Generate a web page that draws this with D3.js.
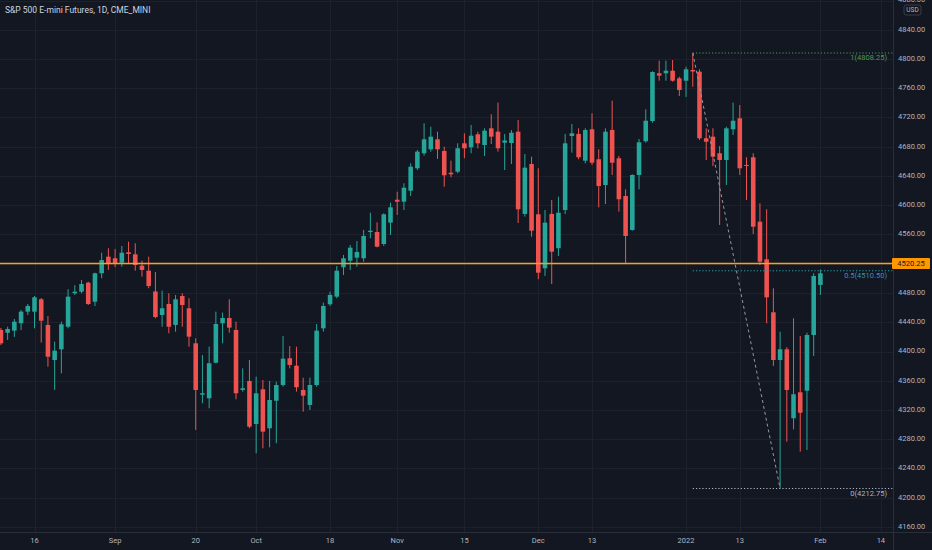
<!DOCTYPE html>
<html>
<head>
<meta charset="utf-8">
<script src="https://cdn.jsdelivr.net/npm/d3@7"></script>
<style>
  html, body { margin: 0; padding: 0; background: #131722; }
  svg { display: block; }
  text { font-family: Roboto, "Noto Sans", sans-serif; }
</style>
</head>
<body>
<svg id="chart" width="932" height="550"></svg>
<script>
// daily sessions shown on the chart
const dates = [
  '2021-08-09','2021-08-10','2021-08-11','2021-08-12','2021-08-13',
  '2021-08-16','2021-08-17','2021-08-18','2021-08-19','2021-08-20',
  '2021-08-23','2021-08-24','2021-08-25','2021-08-26','2021-08-27',
  '2021-08-30','2021-08-31','2021-09-01','2021-09-02','2021-09-03',
  '2021-09-07','2021-09-08','2021-09-09','2021-09-10',
  '2021-09-13','2021-09-14','2021-09-15','2021-09-16','2021-09-17',
  '2021-09-20','2021-09-21','2021-09-22','2021-09-23','2021-09-24',
  '2021-09-27','2021-09-28','2021-09-29','2021-09-30','2021-10-01',
  '2021-10-04','2021-10-05','2021-10-06','2021-10-07','2021-10-08',
  '2021-10-11','2021-10-12','2021-10-13','2021-10-14','2021-10-15',
  '2021-10-18','2021-10-19','2021-10-20','2021-10-21','2021-10-22',
  '2021-10-25','2021-10-26','2021-10-27','2021-10-28','2021-10-29',
  '2021-11-01','2021-11-02','2021-11-03','2021-11-04','2021-11-05',
  '2021-11-08','2021-11-09','2021-11-10','2021-11-11','2021-11-12',
  '2021-11-15','2021-11-16','2021-11-17','2021-11-18','2021-11-19',
  '2021-11-22','2021-11-23','2021-11-24','2021-11-26',
  '2021-11-29','2021-11-30','2021-12-01','2021-12-02','2021-12-03',
  '2021-12-06','2021-12-07','2021-12-08','2021-12-09','2021-12-10',
  '2021-12-13','2021-12-14','2021-12-15','2021-12-16','2021-12-17',
  '2021-12-20','2021-12-21','2021-12-22','2021-12-23',
  '2021-12-27','2021-12-28','2021-12-29','2021-12-30','2021-12-31',
  '2022-01-03','2022-01-04','2022-01-05','2022-01-06','2022-01-07',
  '2022-01-10','2022-01-11','2022-01-12','2022-01-13','2022-01-14',
  '2022-01-18','2022-01-19','2022-01-20','2022-01-21',
  '2022-01-24','2022-01-25','2022-01-26','2022-01-27','2022-01-28',
  '2022-01-31','2022-02-01'
];

const opens = [
  4429.4,4425.7,4428.5,4438.6,4454.5,
  4454.5,4471.4,4436.3,4388.4,4403.0,
  4433.9,4479.6,4481.8,4494.1,4468.1,
  4507.0,4529.7,4527.5,4521.5,4535.7,
  4532.9,4517.4,4510.5,4482.1,
  4449.9,4465.0,4436.3,4475.9,4459.1,
  4411.2,4340.9,4336.0,4384.7,4438.6,
  4445.8,4429.4,4347.4,4359.7,4300.9,
  4348.3,4295.0,4332.7,4354.2,4390.7,
  4380.6,4347.4,4326.9,4354.2,4431.7,
  4464.6,4475.0,4515.2,4524.2,4528.3,
  4527.5,4563.4,4563.4,4547.0,4576.2,
  4607.6,4604.9,4619.9,4650.6,4671.1,
  4676.5,4690.2,4674.2,4644.5,4645.9,
  4684.7,4679.3,4697.0,4682.4,4705.2,
  4700.6,4685.6,4685.1,4700.6,
  4588.1,4656.4,4587.6,4513.8,4588.1,
  4541.2,4593.5,4694.7,4697.5,4660.9,
  4703.9,4662.9,4627.7,4702.9,4664.2,
  4612.7,4566.2,4641.4,4687.5,
  4715.2,4780.5,4780.5,4784.0,4773.6,
  4770.3,4785.0,4782.7,4691.6,4693.8,
  4671.1,4661.9,4703.9,4718.9,4655.1,
  4665.6,4577.5,4526.1,4453.6,
  4388.4,4403.0,4308.7,4344.2,4346.4,
  4422.6,4491.0
];

const highs = [
  4432.2,4433.9,4444.5,4456.8,4465.0,
  4475.9,4473.2,4448.6,4413.4,4440.8,
  4485.1,4490.6,4497.8,4495.5,4507.8,
  4535.1,4541.2,4540.2,4544.3,4550.2,
  4548.0,4524.2,4529.7,4508.7,
  4483.2,4479.6,4477.3,4479.6,4472.8,
  4418.1,4395.2,4406.6,4454.5,4453.1,
  4471.4,4440.8,4377.0,4388.4,4365.6,
  4361.0,4359.7,4358.7,4421.2,4407.5,
  4406.6,4364.2,4364.2,4437.6,4466.8,
  4481.8,4516.9,4532.0,4545.7,4551.1,
  4566.2,4589.8,4576.7,4589.0,4603.5,
  4618.5,4630.0,4657.4,4675.6,4712.1,
  4707.4,4700.6,4680.1,4660.9,4684.7,
  4698.4,4709.8,4700.6,4705.2,4724.4,
  4740.3,4697.5,4702.9,4716.6,
  4670.1,4666.4,4650.6,4593.5,4607.2,
  4611.7,4697.5,4711.1,4705.2,4705.2,
  4725.8,4676.5,4705.2,4743.0,4667.4,
  4621.8,4642.3,4690.6,4731.2,
  4783.2,4797.7,4797.7,4798.6,4775.8,
  4789.5,4808.25,4785.9,4705.2,4705.2,
  4681.0,4707.4,4740.3,4737.1,4665.6,
  4671.1,4602.7,4594.5,4486.5,
  4427.1,4405.8,4445.4,4421.2,4425.7,
  4507.0,4512.0
];

const lows = [
  4408.9,4415.7,4419.9,4429.4,4449.9,
  4431.7,4412.1,4379.2,4347.4,4370.2,
  4431.7,4477.3,4479.6,4463.6,4462.2,
  4500.1,4511.5,4515.2,4516.0,4520.6,
  4510.5,4502.3,4486.5,4445.4,
  4433.9,4424.9,4427.1,4433.9,4406.6,
  4292.7,4329.2,4322.3,4383.9,4411.2,
  4425.7,4334.7,4345.1,4295.0,4260.8,
  4267.7,4269.0,4274.5,4351.9,4377.0,
  4345.1,4317.7,4320.0,4351.9,4427.1,
  4462.2,4472.8,4504.6,4511.5,4516.0,
  4522.8,4554.8,4542.5,4544.3,4559.3,
  4586.7,4593.5,4612.7,4648.2,4667.8,
  4673.3,4663.3,4625.4,4638.2,4643.7,
  4664.2,4671.1,4677.9,4667.4,4683.8,
  4673.3,4648.2,4656.4,4575.7,
  4584.4,4557.0,4498.8,4503.3,4492.3,
  4530.6,4588.1,4671.9,4662.9,4657.4,
  4655.1,4597.2,4601.7,4641.4,4591.2,
  4520.6,4565.2,4621.8,4685.6,
  4712.9,4770.3,4770.3,4769.0,4749.4,
  4748.1,4762.1,4689.2,4661.9,4653.7,
  4573.0,4627.7,4696.1,4641.4,4607.2,
  4560.7,4518.3,4438.6,4380.2,
  4212.75,4276.7,4293.6,4263.0,4265.3,
  4393.9,4477.3
];

const closes = [
  4411.2,4430.8,4440.8,4454.5,4462.2,
  4474.1,4442.1,4392.9,4401.1,4437.2,
  4475.0,4481.8,4492.3,4465.0,4507.0,
  4525.1,4519.7,4519.7,4535.1,4533.4,
  4518.3,4511.5,4489.6,4447.2,
  4459.1,4433.9,4471.4,4463.6,4420.3,
  4347.4,4342.9,4383.9,4437.6,4445.8,
  4432.6,4342.9,4349.7,4297.2,4342.9,
  4290.4,4333.7,4354.2,4390.2,4381.6,
  4351.1,4339.6,4354.2,4428.5,4462.2,
  4477.3,4510.5,4527.5,4542.0,4536.1,
  4558.0,4565.2,4543.3,4587.6,4597.2,
  4604.9,4624.0,4652.7,4673.3,4690.2,
  4693.8,4676.5,4641.0,4642.3,4677.9,
  4677.9,4695.1,4684.7,4702.0,4693.8,
  4677.9,4688.6,4699.2,4594.5,
  4651.4,4565.2,4507.8,4576.2,4536.5,
  4589.8,4684.7,4698.4,4665.6,4702.9,
  4658.2,4626.3,4700.6,4658.2,4608.2,
  4558.0,4641.4,4686.1,4715.6,
  4782.2,4777.2,4784.0,4770.3,4757.6,
  4785.9,4782.9,4691.6,4686.9,4666.4,
  4661.9,4705.2,4715.6,4650.6,4653.7,
  4570.7,4522.8,4474.1,4388.4,
  4403.0,4347.4,4341.5,4316.3,4422.6,
  4503.3,4507.0
];

// axis labels
const priceTicks = [4160,4200,4240,4280,4320,4360,4400,4440,4480,4520,4560,4600,4640,4680,4720,4760,4800,4840,4880];
const timeTickDates = ['2021-08-16','2021-09-01','2021-09-20','2021-10-01','2021-10-18','2021-11-01','2021-11-15','2021-12-01','2021-12-13','2022-01-03','2022-01-13','2022-02-01','2022-02-14'];
const timeTickLabels = ['16','Sep','20','Oct','18','Nov','15','Dec','13','2022','13','Feb','14'];

// drawings
const hLinePrice = 4520.25;
const fibFrom = { date: '2022-01-04', price: 4808.25 };
const fibTo = { date: '2022-01-24', price: 4212.75 };
const fibLevels = [1, 0.5, 0];
const fibLineColors = ['#4f9a55', '#23a0b4', '#b2b5be'];
const fibTextColors = ['#4f9a55', '#3a8fb8', '#b2b5be'];

const W = 932, H = 550;
const plotW = 893, plotH = 532;
const svg = d3.select('#chart');

svg.append('rect').attr('width', W).attr('height', H).attr('fill', '#131722');

const parse = d3.timeParse('%Y-%m-%d');

// bar number of a date; dates after the data count forward by weekdays
function barIndex(s) {
  const k = dates.indexOf(s);
  if (k >= 0) return k;
  let d = parse(dates[dates.length - 1]);
  const t = parse(s);
  let n = dates.length - 1;
  while (d < t) {
    d = d3.timeDay.offset(d, 1);
    if (d.getDay() % 6 !== 0) n++;
  }
  return n;
}

const x = d3.scaleLinear()
  .domain([barIndex('2021-08-16'), barIndex('2022-02-01')])
  .range([34.5, 820.4]);
const y = d3.scaleLinear()
  .domain([4160, 4880])
  .range([527, 0.5]);

const step = x(1) - x(0);
const bodyW = step * 0.68;

svg.append('clipPath').attr('id', 'plotClip')
  .append('rect').attr('width', plotW).attr('height', plotH);

// grid
const grid = svg.append('g').attr('clip-path', 'url(#plotClip)');
grid.selectAll('.hgrid')
  .data(priceTicks)
  .enter().append('line')
  .attr('x1', 0).attr('x2', plotW)
  .attr('y1', d => Math.round(y(d)) + 0.5).attr('y2', d => Math.round(y(d)) + 0.5)
  .attr('stroke', '#1d212c').attr('stroke-width', 1);
grid.selectAll('.vgrid')
  .data(timeTickDates)
  .enter().append('line')
  .attr('y1', 0).attr('y2', plotH)
  .attr('x1', d => Math.round(x(barIndex(d))) + 0.5).attr('x2', d => Math.round(x(barIndex(d))) + 0.5)
  .attr('stroke', '#1d212c').attr('stroke-width', 1);

// candles
const bars = dates.map((d, i) => ({ i, o: opens[i], h: highs[i], l: lows[i], c: closes[i] }));
const up = '#26a69a', down = '#ef5350';
const candles = svg.append('g').attr('clip-path', 'url(#plotClip)');

candles.selectAll('.wick')
  .data(bars)
  .enter().append('line')
  .attr('x1', d => x(d.i)).attr('x2', d => x(d.i))
  .attr('y1', d => y(d.h)).attr('y2', d => y(d.l))
  .attr('stroke', d => d.c >= d.o ? up : down)
  .attr('stroke-width', 1);

candles.selectAll('.body')
  .data(bars)
  .enter().append('rect')
  .attr('x', d => x(d.i) - bodyW / 2)
  .attr('width', bodyW)
  .attr('y', d => y(Math.max(d.o, d.c)))
  .attr('height', d => Math.max(1, Math.abs(y(d.o) - y(d.c))))
  .attr('fill', d => d.c >= d.o ? up : down);

// horizontal line
svg.append('line')
  .attr('x1', 0).attr('x2', plotW)
  .attr('y1', y(hLinePrice)).attr('y2', y(hLinePrice))
  .attr('stroke', '#f5a11c').attr('stroke-width', 1.4);

// fib retracement
const fx1 = x(barIndex(fibFrom.date)), fx2 = x(barIndex(fibTo.date));
const fib = svg.append('g').attr('clip-path', 'url(#plotClip)');
fibLevels.forEach((lvl, k) => {
  const p = fibTo.price + lvl * (fibFrom.price - fibTo.price);
  fib.append('line')
    .attr('x1', fx1).attr('x2', plotW)
    .attr('y1', y(p)).attr('y2', y(p))
    .attr('stroke', fibLineColors[k]).attr('stroke-width', 1.1)
    .attr('stroke-dasharray', '1.2,2');
  fib.append('text')
    .attr('x', 887).attr('y', y(p) + 5.5)
    .attr('text-anchor', 'end').attr('dominant-baseline', 'middle')
    .attr('font-size', 7.5).attr('fill', fibTextColors[k])
    .text(`${lvl}(${p.toFixed(2)})`);
});
fib.append('line')
  .attr('x1', fx1).attr('y1', y(fibFrom.price))
  .attr('x2', fx2).attr('y2', y(fibTo.price))
  .attr('stroke', '#9598a1').attr('stroke-width', 1)
  .attr('stroke-dasharray', '3,3');

// axes separators
svg.append('line').attr('x1', plotW + 0.5).attr('x2', plotW + 0.5).attr('y1', 0).attr('y2', H)
  .attr('stroke', '#2a2e39');
svg.append('line').attr('x1', 0).attr('x2', W).attr('y1', plotH + 0.5).attr('y2', plotH + 0.5)
  .attr('stroke', '#2a2e39');

// price axis
const fmt = d3.format('.2f');
svg.selectAll('.ptick')
  .data(priceTicks)
  .enter().append('text')
  .attr('x', 898).attr('y', d => y(d))
  .attr('dominant-baseline', 'middle')
  .attr('font-size', 7.5).attr('fill', '#b2b5be')
  .text(d => fmt(d));

// price label of the horizontal line
svg.append('rect')
  .attr('x', plotW - 1).attr('y', y(hLinePrice) - 5.5)
  .attr('width', 38).attr('height', 11).attr('rx', 1)
  .attr('fill', '#ff9800');
svg.append('text')
  .attr('x', plotW + 18).attr('y', y(hLinePrice) + 0.5)
  .attr('text-anchor', 'middle').attr('dominant-baseline', 'middle')
  .attr('font-size', 7.5).attr('fill', '#131722')
  .text(hLinePrice.toFixed(2));

// currency badge
svg.append('rect')
  .attr('x', 904).attr('y', 5).attr('width', 17).attr('height', 10).attr('rx', 2)
  .attr('fill', '#131722').attr('stroke', '#434651').attr('stroke-width', 0.8);
svg.append('text')
  .attr('x', 912.5).attr('y', 10.5)
  .attr('text-anchor', 'middle').attr('dominant-baseline', 'middle')
  .attr('font-size', 6.5).attr('fill', '#b2b5be')
  .text('USD');

// time axis
svg.selectAll('.ttick')
  .data(timeTickDates)
  .enter().append('text')
  .attr('x', d => x(barIndex(d))).attr('y', 541.5)
  .attr('text-anchor', 'middle').attr('dominant-baseline', 'middle')
  .attr('font-size', 7.5).attr('fill', '#b2b5be')
  .text((d, i) => timeTickLabels[i]);

// title
svg.append('text')
  .attr('x', 5).attr('y', 11)
  .attr('dominant-baseline', 'middle')
  .attr('font-size', 8.5).attr('fill', '#d1d4dc')
  .text('S&P 500 E-mini Futures, 1D, CME_MINI');
</script>
</body>
</html>
